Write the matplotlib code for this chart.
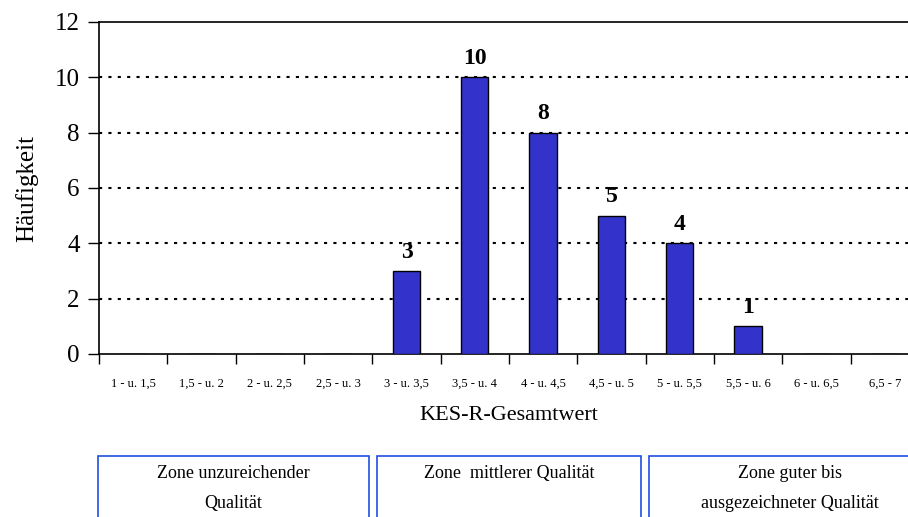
import matplotlib.pyplot as plt
from matplotlib.patches import Rectangle

plt.rcParams['font.family'] = ['Liberation Serif', 'DejaVu Serif']

categories = ['1 - u. 1,5', '1,5 - u. 2', '2 - u. 2,5', '2,5 - u. 3', '3 - u. 3,5', '3,5 - u. 4',
              '4 - u. 4,5', '4,5 - u. 5', '5 - u. 5,5', '5,5 - u. 6', '6 - u. 6,5', '6,5 - 7']
counts = [0, 0, 0, 0, 3, 10, 8, 5, 4, 1, 0, 0]
zones = ['Zone unzureichender\nQualität', 'Zone  mittlerer Qualität',
         'Zone guter bis\nausgezeichneter Qualität']

W, H = 908, 517
fig = plt.figure(figsize=(W / 100, H / 100), dpi=100)
# axes spans past the right edge like the original
ax = fig.add_axes([99 / W, 1 - 354 / H, (919 - 99) / W, (354 - 22) / H])

x = list(range(len(categories)))
bars = ax.bar(x, counts, width=0.4, color='#3333CC', edgecolor='black', linewidth=1, zorder=3)
for xi, c in zip(x, counts):
    if c > 0:
        ax.text(xi, c + 0.3, str(c), ha='center', va='bottom', fontsize=17, fontweight='bold')

ax.set_xlim(-0.5, len(categories) - 0.5)
ax.set_ylim(0, 12)
ax.set_yticks(range(0, 13, 2))
ax.tick_params(axis='y', labelsize=18, length=8, width=1, direction='out', pad=6)
for yv in range(2, 12, 2):
    ax.axhline(yv, color='black', linestyle=(0, (1.5, 3)), linewidth=1.5, zorder=1)

ax.set_xticks([i - 0.5 for i in range(len(categories) + 1)])
ax.set_xticklabels([])
ax.set_xticks(x, minor=True)
ax.set_xticklabels(categories, minor=True, fontsize=9)
ax.tick_params(axis='x', which='major', length=7, width=1, direction='out')
ax.tick_params(axis='x', which='minor', length=0, pad=17)

for s in ['left', 'bottom', 'top']:
    ax.spines[s].set_linewidth(1.2)
ax.spines['right'].set_visible(False)

ax.set_ylabel('Häufigkeit', fontsize=18, labelpad=12)
ax.set_xlabel('KES-R-Gesamtwert', fontsize=16, labelpad=12)

# zone boxes below the chart
boxes = [(98, 369), (377, 641), (649, 930)]
for (x0, x1), label in zip(boxes, zones):
    fig.patches.append(Rectangle((x0 / W, -0.1), (x1 - x0) / W, (H - 456) / H + 0.1,
                                 transform=fig.transFigure, fill=False,
                                 edgecolor='#1f4fe0', linewidth=1.2))
    fig.text((x0 + x1) / 2 / W, 1 - 465 / H, label, ha='center', va='top', fontsize=13,
             linespacing=2.0)

fig.savefig('out.png', dpi=100)
